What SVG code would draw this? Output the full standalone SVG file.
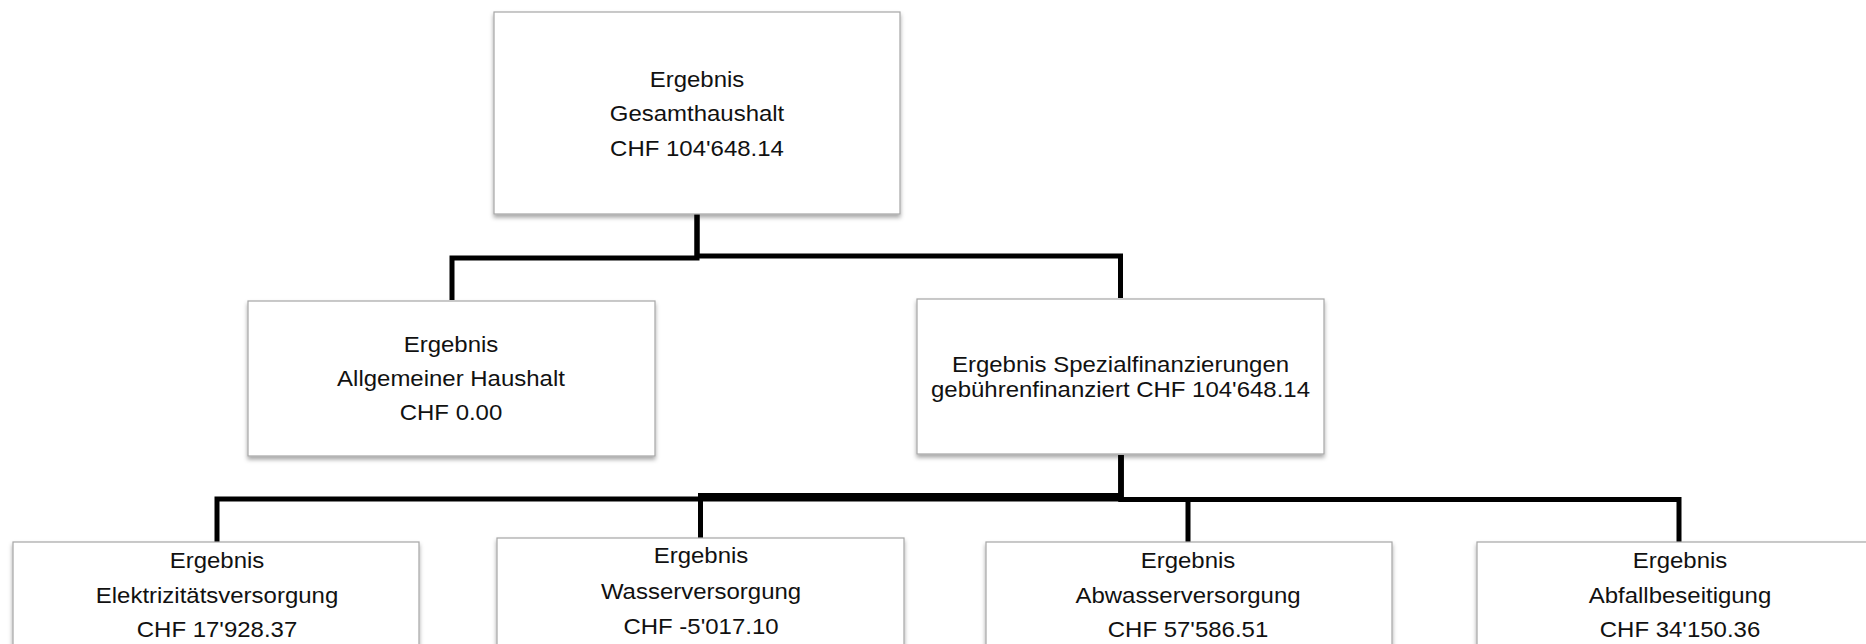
<svg xmlns="http://www.w3.org/2000/svg" width="1866" height="644" viewBox="0 0 1866 644">
<defs>
<filter id="sh" x="-5%" y="-10%" width="110%" height="125%">
<feDropShadow dx="0" dy="3" stdDeviation="2" flood-color="#000" flood-opacity="0.35"/>
</filter>
<style>
.box{fill:#fff;stroke:#a6a6a6;stroke-width:1.2;filter:url(#sh)}
.t{font-family:"Liberation Sans",Arial,sans-serif;font-size:22px;fill:#111;text-anchor:middle}
.c{fill:none;stroke:#000;stroke-width:5;stroke-linejoin:miter}
</style>
</defs>
<rect width="1866" height="644" fill="#fff"/>
<g id="connectors">
<path class="c" d="M697 214 V258 H452 V300"/>
<path class="c" d="M697 214 V256 H1120.5 V298"/>
<path class="c" d="M1121 455 V499 H217 V542"/>
<path class="c" d="M1121 455 V495.5 H700.5 V538"/>
<path class="c" d="M1121 455 V499.5 H1188 V542"/>
<path class="c" d="M1121 455 V499.5 H1679 V542"/>
</g>
<g id="n_gesamt">
<rect class="box" x="494" y="12" width="406" height="202"/>
<text class="t" transform="translate(697 0) scale(1.09 1)"><tspan x="0" y="87">Ergebnis</tspan><tspan x="0" y="121.5">Gesamthaushalt</tspan><tspan x="0" y="156.5">CHF 104'648.14</tspan></text>
</g>
<g id="n_allgemein">
<rect class="box" x="248" y="301" width="407" height="155"/>
<text class="t" transform="translate(451 0) scale(1.09 1)"><tspan x="0" y="351.7">Ergebnis</tspan><tspan x="0" y="386">Allgemeiner Haushalt</tspan><tspan x="0" y="420">CHF 0.00</tspan></text>
</g>
<g id="n_spezial">
<rect class="box" x="917" y="299" width="407" height="155"/>
<text class="t" transform="translate(1120.5 0) scale(1.09 1)"><tspan x="0" y="371.7">Ergebnis Spezialfinanzierungen</tspan><tspan x="0" y="397.3">gebührenfinanziert CHF 104'648.14</tspan></text>
</g>
<g id="n_elektro">
<rect class="box" x="13" y="542" width="406" height="130"/>
<text class="t" transform="translate(217 0) scale(1.09 1)"><tspan x="0" y="568.3">Ergebnis</tspan><tspan x="0" y="603.3">Elektrizitätsversorgung</tspan><tspan x="0" y="636.7">CHF 17'928.37</tspan></text>
</g>
<g id="n_wasser">
<rect class="box" x="497" y="538" width="407" height="130"/>
<text class="t" transform="translate(701 0) scale(1.09 1)"><tspan x="0" y="563.3">Ergebnis</tspan><tspan x="0" y="599.3">Wasserversorgung</tspan><tspan x="0" y="634">CHF -5'017.10</tspan></text>
</g>
<g id="n_abwasser">
<rect class="box" x="986" y="542" width="406" height="130"/>
<text class="t" transform="translate(1188 0) scale(1.09 1)"><tspan x="0" y="567.7">Ergebnis</tspan><tspan x="0" y="603.3">Abwasserversorgung</tspan><tspan x="0" y="636.7">CHF 57'586.51</tspan></text>
</g>
<g id="n_abfall">
<rect class="box" x="1477" y="542" width="406" height="130"/>
<text class="t" transform="translate(1680 0) scale(1.09 1)"><tspan x="0" y="567.7">Ergebnis</tspan><tspan x="0" y="603.3">Abfallbeseitigung</tspan><tspan x="0" y="636.7">CHF 34'150.36</tspan></text>
</g>
</svg>
